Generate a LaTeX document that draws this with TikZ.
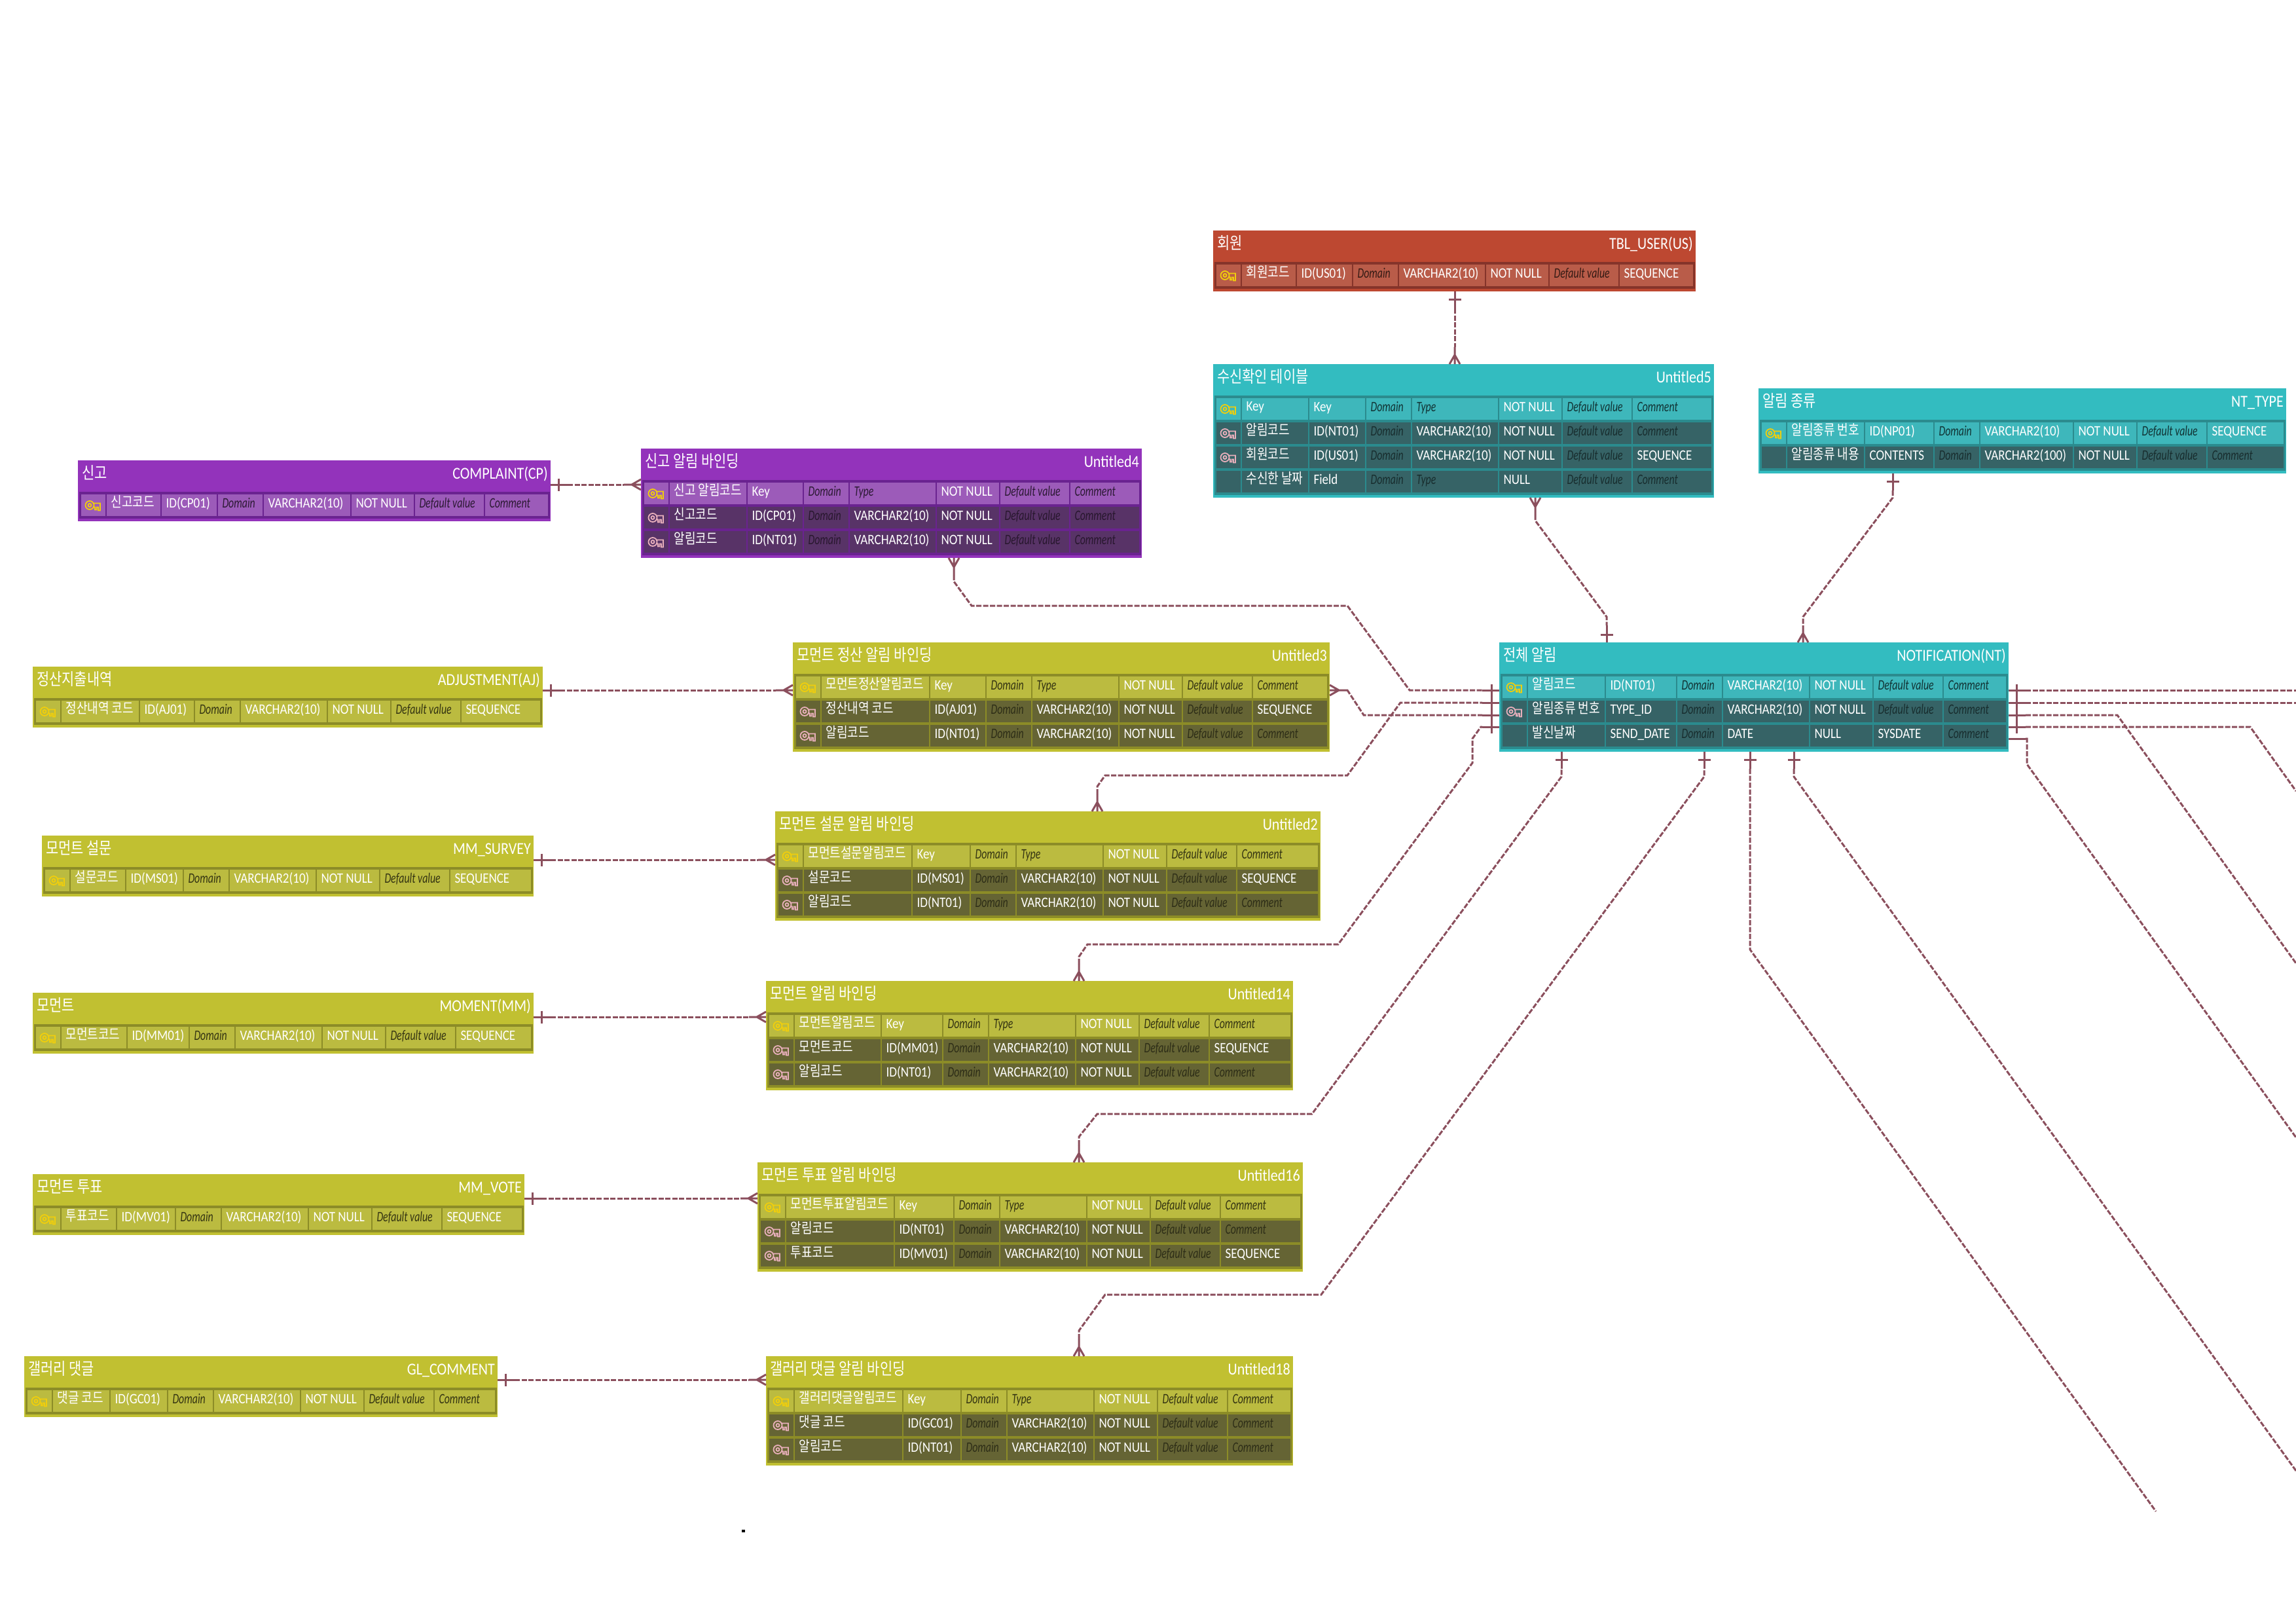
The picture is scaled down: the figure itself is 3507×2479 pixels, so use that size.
\documentclass[tikz,border=0pt]{standalone}
\usepackage{fontspec}
\setmainfont[FakeStretch=0.865,ItalicFeatures={FakeStretch=0.72}]{Carlito}
\newfontfamily\krfont[FakeStretch=0.82]{Noto Sans CJK KR}
\definecolor{tlHead}{HTML}{33BCC0}\definecolor{tlGrid}{HTML}{2B8B8E}
\definecolor{tlLight}{HTML}{3EB7BB}\definecolor{tlDark}{HTML}{366366}
\definecolor{puHead}{HTML}{9333BB}\definecolor{puGrid}{HTML}{6A2390}
\definecolor{puLight}{HTML}{9C5BB9}\definecolor{puDark}{HTML}{583367}
\definecolor{olHead}{HTML}{C1C031}\definecolor{olGrid}{HTML}{8C8C27}
\definecolor{olLight}{HTML}{BBBB40}\definecolor{olDark}{HTML}{656434}
\definecolor{reHead}{HTML}{BD4831}\definecolor{reGrid}{HTML}{85342A}
\definecolor{reLight}{HTML}{B95C49}\definecolor{reDark}{HTML}{85342A}
\definecolor{ky}{HTML}{F0CE0C}\definecolor{kp}{HTML}{E8AFBB}
\definecolor{linkcol}{HTML}{8B4F5D}
\pgfdeclarearrow{name=OneTip,
  setup code={\pgfarrowssettipend{0pt}\pgfarrowssetlineend{-26pt}\pgfarrowssetbackend{-26pt}},
  drawing code={\pgfsetdash{}{0pt}\pgfsetlinewidth{3pt}\pgfsetbuttcap
    \pgfpathmoveto{\pgfqpoint{0pt}{0pt}}\pgfpathlineto{\pgfqpoint{-26pt}{0pt}}
    \pgfpathmoveto{\pgfqpoint{-12pt}{-9.5pt}}\pgfpathlineto{\pgfqpoint{-12pt}{9.5pt}}
    \pgfusepathqstroke}}
\pgfdeclarearrow{name=ManyTip,
  setup code={\pgfarrowssettipend{0pt}\pgfarrowssetlineend{-26pt}\pgfarrowssetbackend{-26pt}},
  drawing code={\pgfsetdash{}{0pt}\pgfsetlinewidth{3pt}\pgfsetbuttcap
    \pgfpathmoveto{\pgfqpoint{0pt}{0pt}}\pgfpathlineto{\pgfqpoint{-26pt}{0pt}}
    \pgfpathmoveto{\pgfqpoint{0pt}{-8pt}}\pgfpathlineto{\pgfqpoint{-14pt}{0pt}}\pgfpathlineto{\pgfqpoint{0pt}{8pt}}
    \pgfusepathqstroke}}
\pgfdeclarearrow{name=StemTip,
  setup code={\pgfarrowssettipend{0pt}\pgfarrowssetlineend{-26pt}\pgfarrowssetbackend{-26pt}},
  drawing code={\pgfsetdash{}{0pt}\pgfsetlinewidth{3pt}\pgfsetbuttcap
    \pgfpathmoveto{\pgfqpoint{0pt}{0pt}}\pgfpathlineto{\pgfqpoint{-26pt}{0pt}}
    \pgfusepathqstroke}}
\tikzset{
  tblbox/.style={anchor=north west,inner sep=0pt,outer sep=0pt},
  headtxt/.style={inner sep=0pt,text=white,font=\fontsize{25.5}{28}\selectfont},
  cellbox/.style={tblbox,text=white,text height=20.5pt,text depth=12.5pt,font=\fontsize{22}{24}\selectfont},
  link/.style={draw=linkcol,line width=3pt,dash pattern=on 8pt off 2.5pt},
  keyicon/.pic={
    \path[pic actions,line width=1.8pt] (-5,0) circle[radius=6.5pt] (-5,0) circle[radius=2.5pt]
      (1.5,-3) -- (11,-3) -- (11,8) -- (8,8) -- (8,3) -- (5.5,3) -- (5.5,7) -- (3,7) -- (3,3) -- (1.5,3) -- cycle;}
}
\newcommand\Ph[1]{\textit{\textcolor{phcol}{#1}}}
\newcommand\Ty{\Ph{Type}}
\newcommand\Df{\Ph{Default value}}
\newcommand\Cm{\Ph{Comment}}
\newcommand\KeyTx{\rmfamily Key}
\newcommand\cell[3]{\node[cellbox,fill=\rowfill] (#1) at (\cx,\yr) {\makebox[#2pt][l]{\hspace{7pt}#3}};
  \pgfmathsetmacro\cx{\cx+#2+2}}
\newcommand\erdtable[9]{
  \foreach[count=\k] \dummy in {#9} {\xdef\nrows{\k}}
  \pgfmathsetmacro\tblh{56+37*\nrows}
  \pgfmathsetmacro\grdh{4+37*\nrows}
  \node[tblbox,fill=#1Head,minimum width=#5pt,minimum height=\tblh pt] (#2) at (#3,#4) {};
  \node[tblbox,fill=#1Grid,minimum width=#5pt-3pt,minimum height=\grdh pt] (#2-grid) at (#3+1.5,#4+48) {};
  \node[headtxt,anchor=base west] (#2-title) at ([shift={(6pt,-28pt)}]#2.north west) {\krfont #6};
  \node[headtxt,anchor=base east] (#2-code) at ([shift={(-4pt,-28pt)}]#2.north east) {#7};
  \foreach \nw/\iw/\tw in {#8} {
    \pgfmathsetmacro\cmw{#5-23-37-\nw-\iw-68-\tw-95-105}
    \foreach[count=\rw] \kk/\nm/\iv/\tv/\nnv/\dv/\cv in {#9} {
      \ifnum\rw=1 \def\rowfill{#1Light}\colorlet{phcol}{black!72!#1Light}
      \else \def\rowfill{#1Dark}\colorlet{phcol}{black!55!#1Dark}\fi
      \pgfmathsetmacro\cx{#3+4.5}
      \pgfmathsetmacro\yr{#4+52+37*(\rw-1)}
      \cell{#2-\rw-key}{37}{}
      \pic[draw=\kk] at (#2-\rw-key) {keyicon};
      \cell{#2-\rw-name}{\nw}{\raisebox{1pt}{\krfont\nm}}
      \cell{#2-\rw-id}{\iw}{\iv}
      \cell{#2-\rw-dom}{68}{\Ph{Domain}}
      \cell{#2-\rw-type}{\tw}{\tv}
      \cell{#2-\rw-null}{95}{\nnv}
      \cell{#2-\rw-def}{105}{\dv}
      \cell{#2-\rw-com}{\cmw}{\cv}
    }
  }
}
\begin{document}
\begin{tikzpicture}[x=1pt,y=-1pt]
\useasboundingbox (0,0) rectangle (3507,2479);
\erdtable{re}{rd}{1853}{352}{737}{회원}{TBL\_USER(US)}{82/84/131}{ky/회원코드/ID(US01)/VARCHAR2(10)/NOT NULL/\Df/SEQUENCE}
\erdtable{tl}{u5}{1853}{556}{765}{수신확인 테이블}{Untitled5}{101/85/131}{ky/\KeyTx/Key/\Ty/NOT NULL/\Df/\Cm,kp/알림코드/ID(NT01)/VARCHAR2(10)/NOT NULL/\Df/\Cm,kp/회원코드/ID(US01)/VARCHAR2(10)/NOT NULL/\Df/SEQUENCE,none/수신한 날짜/Field/\Ty/NULL/\Df/\Cm}
\erdtable{tl}{ty}{2686}{593}{806}{알림 종류}{NT\_TYPE}{117/104/141}{ky/알림종류 번호/ID(NP01)/VARCHAR2(10)/NOT NULL/\Df/SEQUENCE,none/알림종류 내용/CONTENTS/VARCHAR2(100)/NOT NULL/\Df/\Cm}
\erdtable{tl}{nt}{2290}{981}{778}{전체 알림}{NOTIFICATION(NT)}{117/107/131}{ky/알림코드/ID(NT01)/VARCHAR2(10)/NOT NULL/\Df/\Cm,kp/알림종류 번호/TYPE\_ID/VARCHAR2(10)/NOT NULL/\Df/\Cm,none/발신날짜/SEND\_DATE/DATE/NULL/SYSDATE/\Cm}
\erdtable{pu}{cp}{119}{703}{722}{신고}{COMPLAINT(CP)}{82/84/132}{ky/신고코드/ID(CP01)/VARCHAR2(10)/NOT NULL/\Df/\Cm}
\erdtable{pu}{u4}{979}{685}{765}{신고 알림 바인딩}{Untitled4}{117/84/131}{ky/신고 알림코드/Key/\Ty/NOT NULL/\Df/\Cm,kp/신고코드/ID(CP01)/VARCHAR2(10)/NOT NULL/\Df/\Cm,kp/알림코드/ID(NT01)/VARCHAR2(10)/NOT NULL/\Df/\Cm}
\erdtable{ol}{aj}{50}{1018}{779}{정산지출내역}{ADJUSTMENT(AJ)}{118/82/131}{ky/정산내역 코드/ID(AJ01)/VARCHAR2(10)/NOT NULL/\Df/SEQUENCE}
\erdtable{ol}{u3}{1211}{981}{820}{모먼트 정산 알림 바인딩}{Untitled3}{164/84/131}{ky/모먼트정산알림코드/Key/\Ty/NOT NULL/\Df/\Cm,kp/정산내역 코드/ID(AJ01)/VARCHAR2(10)/NOT NULL/\Df/SEQUENCE,kp/알림코드/ID(NT01)/VARCHAR2(10)/NOT NULL/\Df/\Cm}
\erdtable{ol}{ms}{64}{1276}{751}{모먼트 설문}{MM\_SURVEY}{83/86/131}{ky/설문코드/ID(MS01)/VARCHAR2(10)/NOT NULL/\Df/SEQUENCE}
\erdtable{ol}{u2}{1184}{1239}{833}{모먼트 설문 알림 바인딩}{Untitled2}{164/87/131}{ky/모먼트설문알림코드/Key/\Ty/NOT NULL/\Df/\Cm,kp/설문코드/ID(MS01)/VARCHAR2(10)/NOT NULL/\Df/SEQUENCE,kp/알림코드/ID(NT01)/VARCHAR2(10)/NOT NULL/\Df/\Cm}
\erdtable{ol}{mm}{50}{1516}{765}{모먼트}{MOMENT(MM)}{99/93/131}{ky/모먼트코드/ID(MM01)/VARCHAR2(10)/NOT NULL/\Df/SEQUENCE}
\erdtable{ol}{u14}{1170}{1498}{805}{모먼트 알림 바인딩}{Untitled14}{131/92/131}{ky/모먼트알림코드/Key/\Ty/NOT NULL/\Df/\Cm,kp/모먼트코드/ID(MM01)/VARCHAR2(10)/NOT NULL/\Df/SEQUENCE,kp/알림코드/ID(NT01)/VARCHAR2(10)/NOT NULL/\Df/\Cm}
\erdtable{ol}{mv}{50}{1793}{751}{모먼트 투표}{MM\_VOTE}{83/88/131}{ky/투표코드/ID(MV01)/VARCHAR2(10)/NOT NULL/\Df/SEQUENCE}
\erdtable{ol}{u16}{1157}{1775}{833}{모먼트 투표 알림 바인딩}{Untitled16}{164/89/131}{ky/모먼트투표알림코드/Key/\Ty/NOT NULL/\Df/\Cm,kp/알림코드/ID(NT01)/VARCHAR2(10)/NOT NULL/\Df/\Cm,kp/투표코드/ID(MV01)/VARCHAR2(10)/NOT NULL/\Df/SEQUENCE}
\erdtable{ol}{gl}{37}{2071}{723}{갤러리 댓글}{GL\_COMMENT}{86/86/131}{ky/댓글 코드/ID(GC01)/VARCHAR2(10)/NOT NULL/\Df/\Cm}
\erdtable{ol}{u18}{1170}{2071}{805}{갤러리 댓글 알림 바인딩}{Untitled18}{164/87/131}{ky/갤러리댓글알림코드/Key/\Ty/NOT NULL/\Df/\Cm,kp/댓글 코드/ID(GC01)/VARCHAR2(10)/NOT NULL/\Df/\Cm,kp/알림코드/ID(NT01)/VARCHAR2(10)/NOT NULL/\Df/\Cm}
\node[inner sep=0pt,fill=black,minimum width=5pt,minimum height=4pt] (dot) at (1135,2338) {};
\foreach \nm/\px/\py in {endA/3507/1054,endB/3507/1073,endC/3507/1471,endD/3507/1208,endE/3507/1737,endF/3293/2308,endG/3507/2246}
    \coordinate (\nm) at (\px,\py);
\draw[link,OneTip-ManyTip] (rd.south -| 2222,0) -- (u5.north -| 2222,0);
\foreach \a/\b/\py in {cp/u4/740,aj/u3/1054,ms/u2/1313,mm/u14/1553,mv/u16/1830,gl/u18/2107}
    \draw[link,OneTip-ManyTip] (\a.east |- 0,\py) -- (\b.west |- 0,\py);
\draw[link,ManyTip-OneTip] (u3.east |- 0,1054) -- (2058,1054) -- (2083,1092) -- (nt.west |- 0,1092);
\draw[link,ManyTip-OneTip] (u4.south -| 1457,0) -- (1457,888) -- (1484,925) -- (2058,925) -- (2153,1054) -- (nt.west |- 0,1054);
\draw[link,ManyTip-OneTip] (u2.north -| 1676,0) -- (1676,1201) -- (1688,1184) -- (2058,1184) -- (2139,1073) -- (nt.west |- 0,1073);
\draw[link,ManyTip-OneTip] (u14.north -| 1648,0) -- (1648,1461) -- (1661,1442) -- (2044,1442) -- (2249,1165) -- (2249,1128) -- (2262,1110) -- (nt.west |- 0,1110);
\draw[link,ManyTip-OneTip] (u16.north -| 1648,0) -- (1648,1736) -- (1676,1701) -- (2004,1701) -- (2385,1186) -- (nt.south -| 2385,0);
\draw[link,ManyTip-OneTip] (u18.north -| 1648,0) -- (1648,2032) -- (1688,1977) -- (2018,1977) -- (2603,1186) -- (nt.south -| 2603,0);
\draw[link,ManyTip-OneTip] (u5.south -| 2345,0) -- (2345,795) -- (2454,942) -- (nt.north -| 2454,0);
\draw[link,OneTip-ManyTip] (ty.south -| 2891,0) -- (2891,760) -- (2754,942) -- (nt.north -| 2754,0);
\draw[link,OneTip-] (nt.east |- 0,1054) -- (endA);
\draw[link,OneTip-] (nt.east |- 0,1073) -- (endB);
\draw[link,OneTip-] (nt.east |- 0,1092) -- (3234,1092) -- (endC);
\draw[link,OneTip-] (nt.east |- 0,1110) -- (3437,1110) -- (endD);
\draw[link,StemTip-] (nt.east |- 0,1128) -- (3096,1128) -- (3096,1167) -- (endE);
\draw[link,OneTip-] (nt.south -| 2673,0) -- (2673,1450) -- (endF);
\draw[link,OneTip-] (nt.south -| 2740,0) -- (2740,1186) -- (endG);
\end{tikzpicture}
\end{document}
